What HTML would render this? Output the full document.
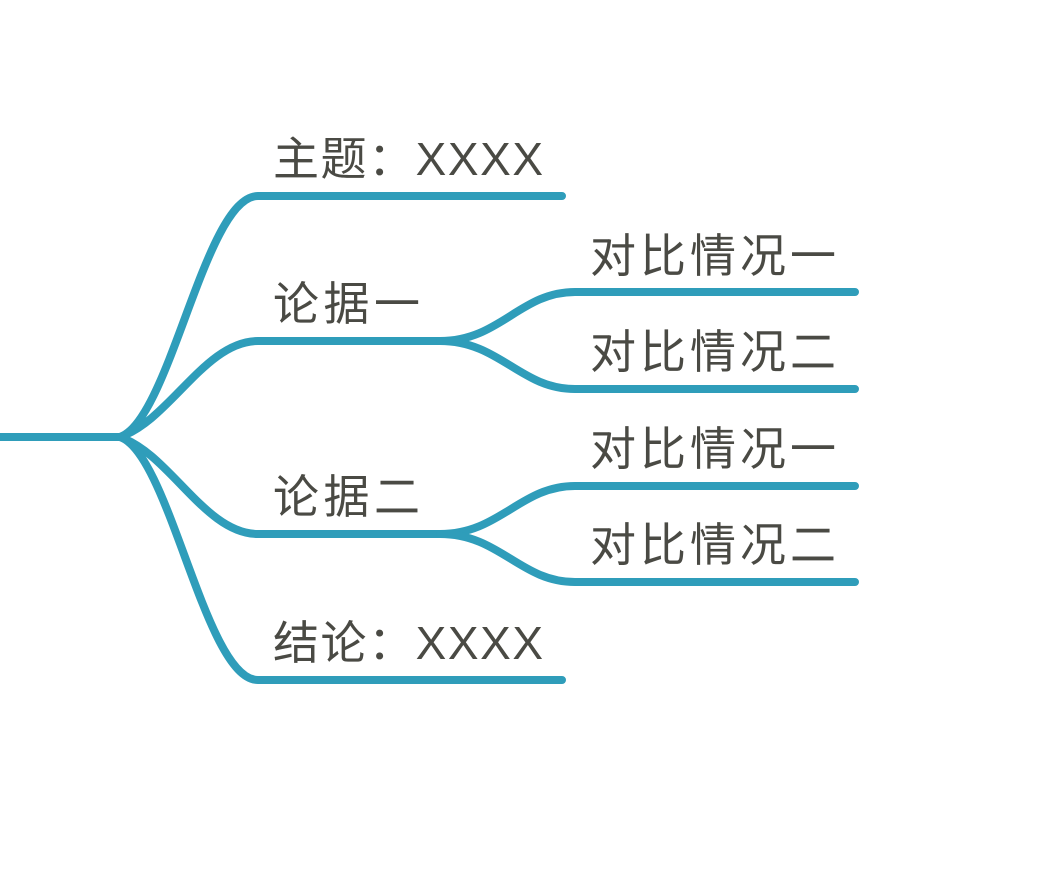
<!DOCTYPE html>
<html><head><meta charset="utf-8"><style>
html,body{margin:0;padding:0;background:#fff;}
svg{display:block}
text{font-family:"Liberation Sans","Noto Sans CJK SC",sans-serif;font-size:46px;fill:#4a4a44;}
</style></head><body>
<svg width="1044" height="880" viewBox="0 0 1044 880">
<g fill="none" stroke="#2f9dba" stroke-width="8" stroke-linecap="round">
<path d="M0 437 L120 437"/>
<path d="M120 437 C170 420 205 196 258 196 L562 196"/>
<path d="M120 437 C170 420 205 341 258 341 L440 341"/>
<path d="M120 437 C170 454 205 534 258 534 L440 534"/>
<path d="M120 437 C170 454 205 680 258 680 L562 680"/>
<path d="M440 341 C500 341 520 292 575 292 L855 292"/>
<path d="M440 341 C500 341 520 389 575 389 L855 389"/>
<path d="M440 534 C500 534 520 486 575 486 L855 486"/>
<path d="M440 534 C500 534 520 582 575 582 L855 582"/>
</g>
<text x="273" y="175" textLength="270" lengthAdjust="spacing">主题：XXXX</text>
<text x="273" y="320" textLength="147" lengthAdjust="spacing">论据一</text>
<text x="273" y="513" textLength="147" lengthAdjust="spacing">论据二</text>
<text x="273" y="659" textLength="270" lengthAdjust="spacing">结论：XXXX</text>
<text x="590" y="272" textLength="246" lengthAdjust="spacing">对比情况一</text>
<text x="590" y="368" textLength="246" lengthAdjust="spacing">对比情况二</text>
<text x="590" y="465" textLength="246" lengthAdjust="spacing">对比情况一</text>
<text x="590" y="561" textLength="246" lengthAdjust="spacing">对比情况二</text>
</svg>
</body></html>
